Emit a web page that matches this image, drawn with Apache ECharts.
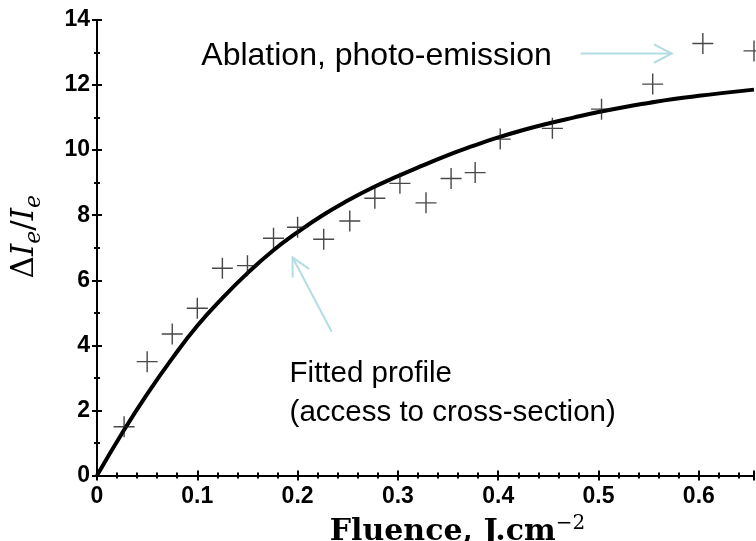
<!DOCTYPE html>
<html><head><meta charset="utf-8">
<script src="https://cdn.jsdelivr.net/npm/echarts@6/dist/echarts.min.js"></script>
<style>html,body{margin:0;padding:0;background:#fff}#main{width:756px;height:541px}</style>
</head><body><div id="main"></div>
<script>
// Measured relative change of electron emission versus laser fluence
const fluence = [0.027, 0.05, 0.075, 0.1, 0.125, 0.15, 0.176, 0.2, 0.226, 0.252, 0.277, 0.302, 0.328, 0.353, 0.377, 0.402, 0.454, 0.503, 0.554, 0.604, 0.655];
const deltaIe = [1.50, 3.50, 4.35, 5.14, 6.37, 6.45, 7.29, 7.63, 7.26, 7.82, 8.52, 8.98, 8.38, 9.13, 9.31, 10.34, 10.67, 11.26, 12.03, 13.28, 13.05];

// Fitted saturation profile, sampled along the fluence axis
const fitFluence = [0, 0.025, 0.05, 0.075, 0.1, 0.125, 0.15, 0.175, 0.2, 0.225, 0.25, 0.275, 0.3, 0.325, 0.35, 0.375, 0.4, 0.425, 0.45, 0.475, 0.5, 0.525, 0.55, 0.575, 0.6, 0.625, 0.655];
const fitValues = [0, 1.3, 2.5, 3.6, 4.6, 5.45, 6.22, 6.9, 7.48, 8.0, 8.45, 8.85, 9.2, 9.53, 9.85, 10.13, 10.39, 10.62, 10.82, 11.0, 11.17, 11.32, 11.45, 11.57, 11.67, 11.76, 11.86];

// Axis ranges
const xRange = [0, 0.655];
const yRange = [0, 14];

const pair = (xs, ys) => xs.map((x, i) => [x, ys[i]]);

const tickFont = { fontFamily: 'Liberation Sans', fontWeight: 'bold', fontSize: 23, color: '#000' };
const axisLine = { show: true, lineStyle: { color: '#000', width: 2 } };
const majorTick = { show: true, inside: true, length: 5, lineStyle: { color: '#000', width: 2 } };
const minorTick = (n) => ({ show: true, splitNumber: n, length: 3, lineStyle: { color: '#000', width: 2 } });

const chart = echarts.init(document.getElementById('main'), null, { renderer: 'canvas' });

chart.setOption({
  backgroundColor: '#fff',
  animation: false,
  grid: { left: 97, right: 2, top: 20, bottom: 65.5, containLabel: false, outerBoundsMode: 'none' },
  xAxis: [{
    type: 'value', min: xRange[0], max: xRange[1], interval: 0.1,
    axisLine, axisTick: majorTick, minorTick: minorTick(5), splitLine: { show: false },
    axisLabel: Object.assign({ margin: 10, showMaxLabel: false }, tickFont),
    name: '{b|Fluence, J.cm}{sup|\u22122}',
    nameLocation: 'middle', nameGap: 37,
    nameTextStyle: {
      padding: [0, 0, 0, 64],
      rich: {
        b: { fontFamily: 'DejaVu Serif', fontWeight: 'bold', fontSize: 30, lineHeight: 37, color: '#000' },
        sup: { fontFamily: 'DejaVu Serif', fontSize: 20, lineHeight: 20, verticalAlign: 'top', color: '#000' }
      }
    }
  }, {
    type: 'value', position: 'top', min: xRange[0], max: xRange[1], interval: 0.1,
    axisLine, axisTick: majorTick, minorTick: minorTick(5), splitLine: { show: false },
    axisLabel: { show: false }
  }],
  yAxis: [{
    type: 'value', min: yRange[0], max: yRange[1], interval: 2,
    axisLine, axisTick: majorTick, minorTick: minorTick(2), splitLine: { show: false },
    axisLabel: Object.assign({ margin: 7 }, tickFont),
    name: '{d|\u0394}{i|I}{s|e}{d|/}{i|I}{s|e}',
    nameLocation: 'middle', nameRotate: 90, nameGap: 52,
    nameTextStyle: {
      padding: [0, 0, 0, 22],
      rich: {
        d: { fontFamily: 'DejaVu Serif', fontSize: 31, lineHeight: 40, color: '#000' },
        i: { fontFamily: 'DejaVu Serif', fontStyle: 'italic', fontSize: 31, lineHeight: 40, color: '#000' },
        s: { fontFamily: 'DejaVu Serif', fontStyle: 'italic', fontSize: 22, lineHeight: 22, verticalAlign: 'bottom', color: '#000' }
      }
    }
  }, {
    type: 'value', position: 'right', min: yRange[0], max: yRange[1], interval: 2,
    axisLine, axisTick: majorTick, minorTick: minorTick(2), splitLine: { show: false },
    axisLabel: { show: false }
  }],
  series: [{
    name: 'Fitted profile',
    type: 'line',
    data: pair(fitFluence, fitValues),
    smooth: 0.5,
    symbol: 'none',
    lineStyle: { color: '#000', width: 4 },
    z: 3
  }, {
    name: 'Measurements',
    type: 'scatter',
    data: pair(fluence, deltaIe),
    symbol: 'path://M0,10 L20,10 M10,0 L10,20',
    symbolSize: 21,
    itemStyle: { color: 'rgba(0,0,0,0)', borderColor: '#1a1a1a', borderWidth: 1.4 },
    z: 4
  }]
});

// Annotation arrows and captions, placed in data units
const arrowColor = '#b3dde1';
function arrow(from, to) {
  const a = chart.convertToPixel({ gridIndex: 0 }, from);
  const b = chart.convertToPixel({ gridIndex: 0 }, to);
  const ang = Math.atan2(b[1] - a[1], b[0] - a[0]);
  const len = 20, spread = 0.48;
  const h1 = [b[0] - len * Math.cos(ang - spread), b[1] - len * Math.sin(ang - spread)];
  const h2 = [b[0] - len * Math.cos(ang + spread), b[1] - len * Math.sin(ang + spread)];
  return [
    { type: 'line', shape: { x1: a[0], y1: a[1], x2: b[0], y2: b[1] }, style: { stroke: arrowColor, lineWidth: 2 } },
    { type: 'polyline', shape: { points: [h1, b, h2] }, style: { stroke: arrowColor, lineWidth: 2, fill: null } }
  ];
}
function caption(at, text, size) {
  const p = chart.convertToPixel({ gridIndex: 0 }, at);
  return { type: 'text', x: p[0], y: p[1], style: { text, fontFamily: 'Liberation Sans', fontSize: size, lineHeight: size * 1.33, fill: '#000', align: 'left', verticalAlign: 'top' } };
}

chart.setOption({
  graphic: [
    ...arrow([0.482, 12.97], [0.573, 12.97]),
    ...arrow([0.234, 4.42], [0.195, 6.70]),
    caption([0.104, 13.55], 'Ablation, photo-emission', 32),
    caption([0.192, 3.72], 'Fitted profile\n(access to cross-section)', 29.5)
  ]
});
</script>
</body></html>
